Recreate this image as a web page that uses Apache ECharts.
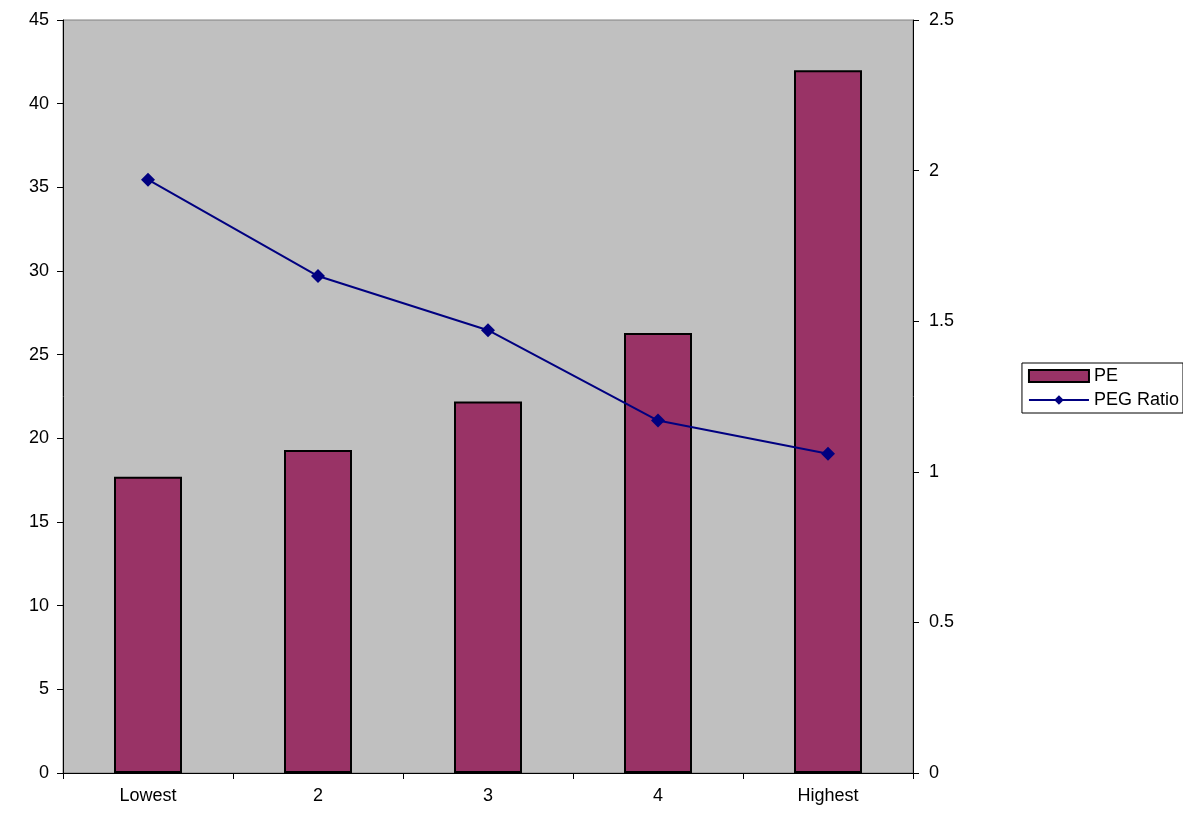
<!DOCTYPE html>
<html>
<head>
<meta charset="utf-8">
<script src="https://cdn.jsdelivr.net/npm/echarts@6/dist/echarts.min.js"></script>
<style>html,body{margin:0;padding:0;background:#fff}#main{width:1183px;height:821px}</style>
</head>
<body>
<div id="main"></div>
<script>
var categories = ['Lowest', '2', '3', '4', 'Highest'];
var peValues = [17.7, 19.3, 22.2, 26.3, 42.0];
var pegValues = [1.97, 1.65, 1.47, 1.17, 1.06];

var chart = echarts.init(document.getElementById('main'));
var labelStyle = { color: '#000', fontFamily: 'Liberation Sans', fontSize: 18 };
var axisCommon = {
  axisLine: { show: true, lineStyle: { color: '#000' } },
  axisTick: { show: true, inside: false, length: 6, lineStyle: { color: '#000' } },
  splitLine: { show: false }
};
chart.setOption({
  animation: false,
  grid: { left: 63, right: 270, top: 20, bottom: 48, show: true, backgroundColor: '#c0c0c0', borderColor: '#808080', borderWidth: 1 },
  legend: {
    orient: 'vertical', right: 0, top: 363,
    borderColor: '#000', borderWidth: 1, padding: [4, 4, 4, 6], itemGap: 6,
    textStyle: { color: '#000', fontFamily: 'Liberation Sans', fontSize: 18 },
    data: [
      { name: 'PE', icon: 'rect', itemStyle: { borderColor: '#000', borderWidth: 2 } },
      { name: 'PEG Ratio' }
    ],
    itemWidth: 60, itemHeight: 12
  },
  xAxis: Object.assign({ type: 'category', data: categories }, axisCommon, {
    axisLabel: Object.assign({ margin: 14 }, labelStyle)
  }),
  yAxis: [
    Object.assign({ type: 'value', min: 0, max: 45, interval: 5 }, axisCommon, {
      axisLabel: Object.assign({ margin: 14 }, labelStyle) }),
    Object.assign({ type: 'value', min: 0, max: 2.5, interval: 0.5, position: 'right' }, axisCommon, {
      axisLabel: Object.assign({ margin: 16 }, labelStyle) })
  ],
  series: [
    { name: 'PE', type: 'bar', data: peValues, barWidth: '40%', yAxisIndex: 0,
      itemStyle: { color: '#993366', borderColor: '#000', borderWidth: 2 } },
    { name: 'PEG Ratio', type: 'line', data: pegValues, yAxisIndex: 1,
      symbol: 'diamond', symbolSize: 14,
      lineStyle: { color: '#000080', width: 2 }, itemStyle: { color: '#000080' } }
  ]
});
</script>
</body>
</html>
